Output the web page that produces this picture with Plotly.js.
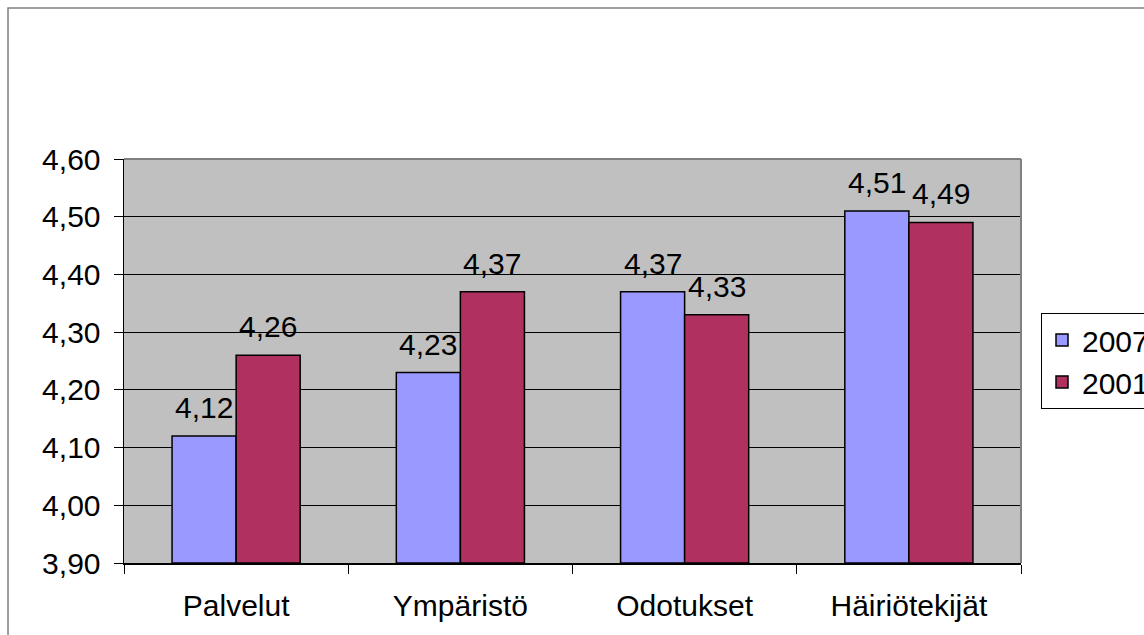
<!DOCTYPE html>
<html>
<head>
<meta charset="utf-8">
<script src="https://cdn.plot.ly/plotly-3.0.1.min.js"></script>
<style>
html,body{margin:0;padding:0;background:#fff;overflow:hidden;}
#chart{width:1144px;height:635px;}
</style>
</head>
<body>
<div id="chart"></div>
<script>
const categories = ["Palvelut", "Ympäristö", "Odotukset", "Häiriötekijät"];
const seriesNames = ["2007", "2001"];
const values2007 = [4.12, 4.23, 4.37, 4.51];
const values2001 = [4.26, 4.37, 4.33, 4.49];
const yTicks = [3.9, 4.0, 4.1, 4.2, 4.3, 4.4, 4.5, 4.6];

const FONT = "Liberation Sans, Arial, sans-serif";
const FS = 30;
const colors = ["#9999FF", "#B03060"];
const allValues = [values2007, values2001];

const traces = allValues.map((vals, i) => ({
  type: "bar",
  name: seriesNames[i],
  x: categories,
  y: vals.map(v => v - 3.9),
  base: 3.9,
  marker: {color: colors[i], line: {color: "#000", width: 1.5}},
  hoverinfo: "skip"
}));

function fmt(v){ return v.toFixed(2).replace(".", ","); }

const annotations = [];
allValues.forEach((vals, i) => {
  vals.forEach((v, j) => {
    annotations.push({
      x: categories[j], y: v, xref: "x", yref: "y",
      text: fmt(v), showarrow: false,
      xanchor: "center", yanchor: "bottom",
      xshift: i === 0 ? -32 : 32, yshift: 10,
      font: {family: FONT, size: FS, color: "#000"}
    });
  });
});

const layout = {
  width: 1144, height: 635,
  margin: {l: 124, r: 123, t: 159, b: 72, autoexpand: false},
  paper_bgcolor: "#fff",
  plot_bgcolor: "#C0C0C0",
  separators: ", ",
  barmode: "group",
  bargap: 0.4286,
  bargroupgap: 0,
  font: {family: FONT, size: FS, color: "#000"},
  xaxis: {
    type: "category",
    tickson: "boundaries",
    ticks: "outside", ticklen: 9, tickcolor: "#000", tickwidth: 1,
    showline: true, linecolor: "#000", linewidth: 1.5,
    showgrid: false,
    ticklabelstandoff: 15,
    tickfont: {family: FONT, size: FS, color: "#000"},
    automargin: false,
    fixedrange: true
  },
  yaxis: {
    range: [3.9, 4.6],
    tickvals: yTicks,
    ticktext: yTicks.map(fmt),
    ticks: "outside", ticklen: 9, tickcolor: "#000", tickwidth: 1,
    showline: true, linecolor: "#000", linewidth: 1.5,
    showgrid: true, gridcolor: "#000", gridwidth: 1,
    zeroline: false,
    ticklabelstandoff: 7,
    tickfont: {family: FONT, size: FS, color: "#000"},
    automargin: false,
    fixedrange: true
  },
  legend: {
    x: 1.0223, y: 0.619, xanchor: "left", yanchor: "top",
    bgcolor: "#fff", bordercolor: "#000", borderwidth: 1,
    font: {family: FONT, size: FS, color: "#000"},
    tracegroupgap: 0
  },
  showlegend: true,
  annotations: annotations,
  shapes: [
    {type: "rect", xref: "paper", yref: "paper", x0: -0.1293, x1: 1.3, y0: -0.3, y1: 1.3738,
     line: {color: "#808080", width: 1.5}, fillcolor: "rgba(0,0,0,0)", layer: "below"},
    {type: "line", xref: "paper", yref: "paper", x0: 0, x1: 1, y0: 1, y1: 1,
     line: {color: "#808080", width: 2}},
    {type: "line", xref: "paper", yref: "paper", x0: 1, x1: 1, y0: 0, y1: 1,
     line: {color: "#808080", width: 2}}
  ]
};

Plotly.newPlot("chart", traces, layout, {displayModeBar: false, staticPlot: true});
</script>
</body>
</html>
